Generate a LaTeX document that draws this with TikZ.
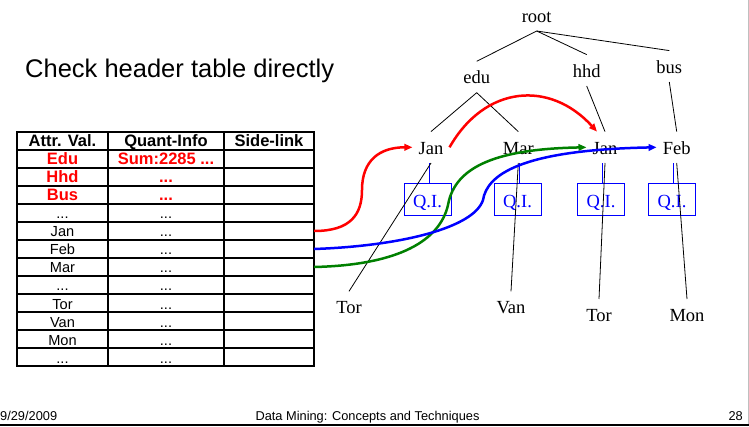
\documentclass[tikz,border=0pt]{standalone}
\usepackage{fontspec}
\usetikzlibrary{arrows.meta}
\newfontfamily\tnr{Liberation Serif}
\newfontfamily\arial{Liberation Sans}
\tikzset{
  tnode/.style={font=\tnr\fontsize{18.5}{22}\selectfont, text height=14pt, text depth=0pt, inner xsep=6pt, inner ysep=8.5pt, anchor=base},
  tline/.style={black, line width=0.8pt},
  qibox/.style={draw=blue, text=blue, line width=0.9pt, font=\tnr\fontsize{18.5}{22}\selectfont, minimum width=47pt, minimum height=32pt, inner sep=0pt, text height=18pt, text depth=0pt},
  qline/.style={blue, line width=0.9pt},
  cellA/.style={minimum width=91pt, minimum height=18pt, inner sep=0pt, text height=12pt, text depth=0pt},
  cellB/.style={minimum width=116pt, minimum height=18pt, inner sep=0pt, text height=12pt, text depth=0pt},
  cellC/.style={minimum width=90pt, minimum height=18pt, inner sep=0pt, text height=12pt, text depth=0pt},
  reg/.style={font=\arial\fontsize{14.6}{16}\selectfont},
  bld/.style={font=\arial\bfseries\fontsize{16.5}{18}\selectfont},
  redb/.style={font=\arial\bfseries\fontsize{16.5}{18}\selectfont, text=red},
  link/.style={line width=2.5pt, -{Triangle[length=8pt,width=6.5pt]}},
}
\begin{document}
\begin{tikzpicture}[x=1pt,y=-1pt]
\useasboundingbox (0,0) rectangle (749,427);
\fill[white] (0,0) rectangle (749,427);

% title
\node[anchor=base west, inner sep=0pt, font=\arial\fontsize{25.5}{30}\selectfont] (title) at (25,78) {Check header table directly};

% table grid
\foreach \yy in {150,168,...,348} \draw[line width=1.1pt] (17,\yy) -- (314,\yy);
\draw[line width=1.1pt] (108,132) -- (108,366);
\draw[line width=1.1pt] (224,132) -- (224,366);
\draw[line width=2pt] (17,132) rectangle (314,366);

% header row
\node[cellA,bld] (a0) at (62.5,141) {Attr. Val.};
\node[cellB,bld] (q0) at (166,141) {Quant-Info};
\node[cellC,bld] (s0) at (269,141) {Side-link};
% rows
\node[cellA,redb] (a1) at (62.5,159) {Edu};
\node[cellB,redb] (q1) at (166,159) {Sum:2285 ...};
\node[cellA,redb] (a2) at (62.5,177) {Hhd};
\node[cellB,redb] (q2) at (166,177) {...};
\node[cellA,redb] (a3) at (62.5,195) {Bus};
\node[cellB,redb] (q3) at (166,195) {...};
\node[cellA,reg] (a4) at (62.5,213) {...};
\node[cellB,reg] (q4) at (166,213) {...};
\node[cellA,reg] (a5) at (62.5,231) {Jan};
\node[cellB,reg] (q5) at (166,231) {...};
\node[cellA,reg] (a6) at (62.5,249) {Feb};
\node[cellB,reg] (q6) at (166,249) {...};
\node[cellA,reg] (a7) at (62.5,267) {Mar};
\node[cellB,reg] (q7) at (166,267) {...};
\node[cellA,reg] (a8) at (62.5,285) {...};
\node[cellB,reg] (q8) at (166,285) {...};
\node[cellA,reg] (a9) at (62.5,303) {Tor};
\node[cellB,reg] (q9) at (166,303) {...};
\node[cellA,reg] (a10) at (62.5,321) {Van};
\node[cellB,reg] (q10) at (166,321) {...};
\node[cellA,reg] (a11) at (62.5,339) {Mon};
\node[cellB,reg] (q11) at (166,339) {...};
\node[cellA,reg] (a12) at (62.5,357) {...};
\node[cellB,reg] (q12) at (166,357) {...};
\node[cellC] (s5) at (269,231) {};
\node[cellC] (s6) at (269,249) {};
\node[cellC] (s7) at (269,267) {};

% tree nodes
\node[tnode] (root) at (536.7,22.3) {root};
\node[tnode] (edu) at (476.7,84) {edu};
\node[tnode] (hhd) at (586.7,77.3) {hhd};
\node[tnode] (bus) at (669.3,73.3) {bus};
\node[tnode] (jan1) at (431,154.3) {Jan};
\node[tnode] (mar) at (518.3,154.3) {Mar};
\node[tnode] (jan2) at (605,154.3) {Jan};
\node[tnode] (feb) at (676.7,154.3) {Feb};
\node[tnode] (tor1) at (349,314) {Tor};
\node[tnode] (van) at (511,314) {Van};
\node[tnode] (tor2) at (599,321.7) {Tor};
\node[tnode] (mon) at (687,321.7) {Mon};

% Q.I. boxes
\node[qibox] (qi1) at (427.5,199) {Q.I.};
\node[qibox] (qi2) at (517.5,199) {Q.I.};
\node[qibox] (qi3) at (601,199) {Q.I.};
\node[qibox] (qi4) at (672,199) {Q.I.};
\draw[qline] ([xshift=1.5pt]qi1.north) -- ([xshift=1.5pt]qi1.north |- jan1.south);
\draw[qline] ([xshift=1.5pt]qi2.north) -- ([xshift=1.5pt]qi2.north |- mar.south);
\draw[qline] ([xshift=1.5pt]qi3.north) -- ([xshift=1.5pt]qi3.north |- jan2.south);
\draw[qline] ([xshift=1.5pt]qi4.north) -- ([xshift=1.5pt]qi4.north |- feb.south);

% tree edges
\draw[tline] (root.south) -- (edu.north);
\draw[tline] (root.south) -- (hhd.north);
\draw[tline] (root.south) -- (bus.north);
\draw[tline] (edu.south) -- (jan1.north);
\draw[tline] (edu.south) -- (mar.north);
\draw[tline] (hhd.south) -- (jan2.north);
\draw[tline] (bus.south) -- (feb.north);
\draw[tline] (jan1.south) -- (tor1.north);
\draw[tline] (mar.south) -- (van.north);
\draw[tline] (jan2.south) -- (tor2.north);
\draw[tline] (feb.south) -- (mon.north);

% side links
\draw[link, red] (s5.east) .. controls (350,231) and (362,215) .. (362,190) .. controls (362,160) and (380,147.3) .. (jan1.west);
\draw[link, red] (jan1.east) .. controls (485,85) and (550,80) .. ([xshift=-8pt]jan2.north);
\draw[link, green!50!black] (s7.east) .. controls (400,265) and (440,240) .. (448,205) .. controls (455,165) and (500,149) .. (jan2.west);
\draw[link, blue] (s6.east) .. controls (400,246) and (474,228) .. (483,200) .. controls (487,175) and (520,150) .. (feb.west);

% footer
\draw[gray!50, line width=1pt] (748.5,0) -- (748.5,424);
\draw[line width=2pt] (0,424.5) -- (749,424.5);
\node[anchor=base west, inner sep=0pt, font=\arial\fontsize{12.8}{14}\selectfont] (date) at (0,420.5) {9/29/2009};
\node[anchor=base, inner sep=0pt, font=\arial\fontsize{12.8}{14}\selectfont] (ftitle) at (367.5,420.5) {Data Mining: Concepts and Techniques};
\node[anchor=base east, inner sep=0pt, font=\arial\fontsize{12.8}{14}\selectfont] (page) at (743,420.5) {28};
\end{tikzpicture}
\end{document}
